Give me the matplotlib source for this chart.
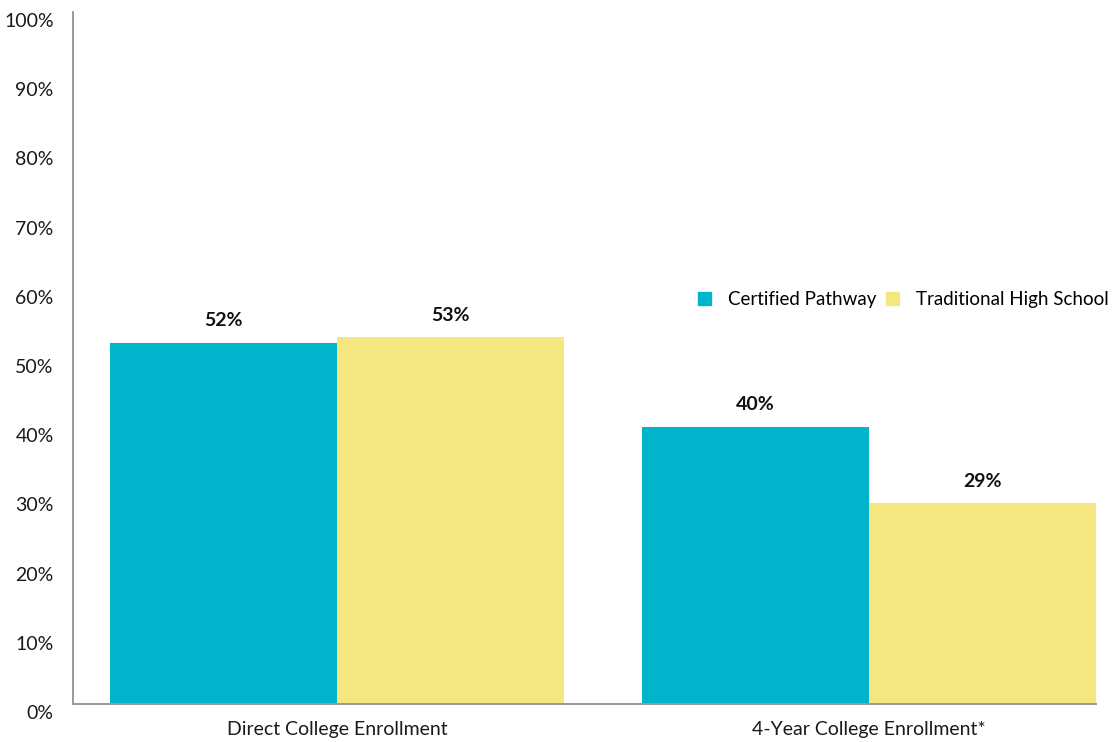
import matplotlib
matplotlib.use("Agg")
import matplotlib.pyplot as plt
import matplotlib.transforms as mtransforms
from matplotlib.patches import Patch
import numpy as np

plt.rcParams['font.family'] = ['Lato', 'DejaVu Sans']

categories = ["Direct College Enrollment", "4-Year College Enrollment*"]
series = ["Certified Pathway", "Traditional High School"]
certified = [52.2, 40.0]
traditional = [53.0, 29.0]
certified_labels = ["52%", "40%"]
traditional_labels = ["53%", "29%"]

cyan = "#00B4CC"
yellow = "#F5E77F"

fig = plt.figure(figsize=(11.12, 7.42), dpi=100)
ax = fig.add_axes([0.0657, 0.0512, 0.9199, 0.9326])

x = np.arange(len(categories))
w = 0.4267
b1 = ax.bar(x - w / 2, certified, w, color=cyan)
b2 = ax.bar(x + w / 2, traditional, w, color=yellow)

for bars, labels in [(b1, certified_labels), (b2, traditional_labels)]:
    for bar, lab in zip(bars, labels):
        ax.annotate(lab, (bar.get_x() + bar.get_width() / 2, bar.get_height()),
                    xytext=(0, 16), textcoords="offset points",
                    ha="center", va="center", fontsize=14, fontweight="bold",
                    color="#111111")

ax.set_xlim(-0.496, 1.4267)
ax.set_ylim(0, 100)
ax.set_yticks(range(0, 101, 10))
ax.set_yticklabels([f"{v}%" for v in range(0, 101, 10)])
ax.set_xticks(x)
ax.set_xticklabels(categories)
ax.tick_params(axis="both", length=0, labelsize=14, colors="#1a1a1a")
ax.tick_params(axis="y", pad=14)
ax.tick_params(axis="x", pad=12)

offset = mtransforms.ScaledTranslation(0, -8 / 100, fig.dpi_scale_trans)
for lab in ax.get_yticklabels():
    lab.set_transform(lab.get_transform() + offset)

for s in ["top", "right"]:
    ax.spines[s].set_visible(False)
for s in ["left", "bottom"]:
    ax.spines[s].set_color("#999999")
    ax.spines[s].set_linewidth(1.4)

handles = [Patch(color=cyan), Patch(color=yellow)]
fig.legend(handles, series, loc="center left",
           bbox_to_anchor=(690 / 1112, 1 - 300 / 742), ncol=2,
           frameon=False, fontsize=13.5, handlelength=0.7, handleheight=0.7,
           handletextpad=0.9, columnspacing=0.55, borderaxespad=0)

fig.savefig("out.png", dpi=100)
